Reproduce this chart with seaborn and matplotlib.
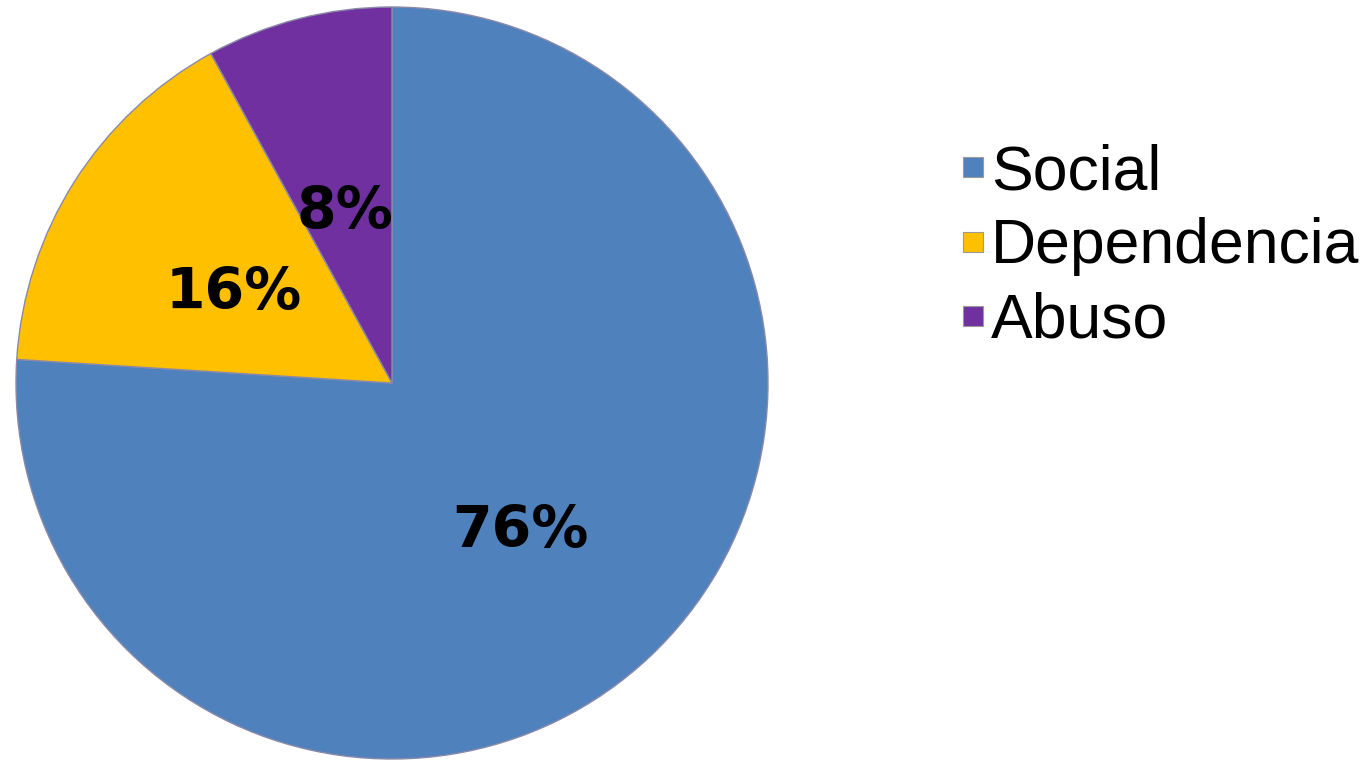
#Pie chart: share of each category

#import libraries
import matplotlib
matplotlib.use("Agg")
import matplotlib.pyplot as plt
from matplotlib.lines import Line2D
import seaborn as sns

#data
categories = ["Social", "Dependencia", "Abuso"]
values = [76, 16, 8]
colors = ["#4F81BD", "#FFC000", "#7030A0"]

sns.set_style("white")

fig = plt.figure(figsize=(13.72, 7.61), dpi=100)
#pie axes: square box around the circle (pixels -> figure fraction)
ax = fig.add_axes([16 / 1372, 2 / 761, 752 / 1372, 752 / 761])

wedges, texts, autotexts = ax.pie(
    values, colors=colors, startangle=90, counterclock=False,
    autopct="%1.0f%%", pctdistance=0.5,
    wedgeprops=dict(edgecolor="#8a8aa8", linewidth=1),
    textprops=dict(fontsize=41, fontweight="bold", family="DejaVu Sans", color="black"),
)
#labels sit a little lower in the original
for t in autotexts:
    x, y = t.get_position()
    t.set_position((x, y - 0.03))

ax.set_xlim(-1.0, 1.0)
ax.set_ylim(-1.0, 1.0)
ax.set_aspect("equal")

#legend with small square markers
handles = [Line2D([0], [0], marker="s", linestyle="none", markersize=14,
                  markerfacecolor=c, markeredgecolor="#9a9a9a", markeredgewidth=0.8)
           for c in colors]
fig.legend(handles, categories, loc="upper left", bbox_to_anchor=(0.701, 0.812),
           frameon=False, borderpad=0, borderaxespad=0, handlelength=0.35,
           handletextpad=0.12, labelspacing=0.245, labelcolor="black",
           prop=dict(family="Liberation Sans", size=45))

fig.savefig("out.png", dpi=100)
